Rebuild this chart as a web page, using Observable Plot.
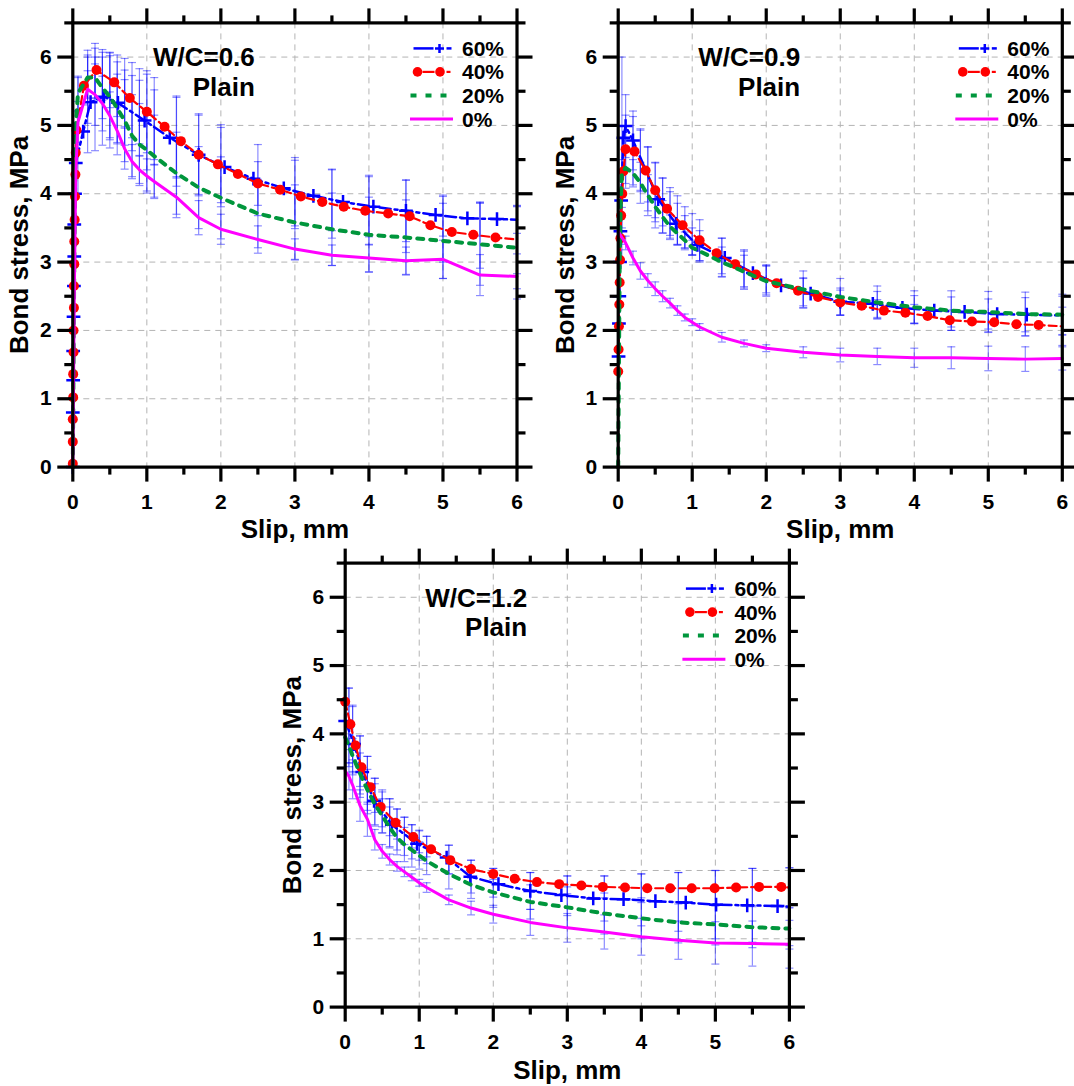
<!DOCTYPE html>
<html><head><meta charset="utf-8">
<script src="https://cdn.jsdelivr.net/npm/d3@7"></script>
<script src="https://cdn.jsdelivr.net/npm/@observablehq/plot@0.6"></script>
<style>
body{margin:0;background:#fff}
#root{position:relative;width:1074px;height:1086px;overflow:hidden;background:#fff}
#root svg{position:absolute}
</style>
</head><body><div id="root"></div>
<script>
// ---------- tick labels / categories ----------
const SERIES = ["60%", "40%", "20%", "0%"];
const X_MAJOR = [0, 1, 2, 3, 4, 5, 6];
const X_MINOR = [0.5, 1.5, 2.5, 3.5, 4.5, 5.5];
const Y_MAJOR = [0, 1, 2, 3, 4, 5, 6];
const Y_MINOR = [0.5, 1.5, 2.5, 3.5, 4.5, 5.5, 6.5];
const GRID_X = [1, 2, 3, 4, 5];
const GRID_Y = [1, 2, 3, 4, 5, 6];
const TITLES = ["W/C=0.6", "W/C=0.9", "W/C=1.2"];
const SUBTITLE = "Plain";
const X_LABEL = "Slip, mm";
const Y_LABEL = "Bond stress, MPa";

// ---------- W/C = 0.6 ----------
const p1_s60 = [[0,0],[0,0.8],[0.005,1.27],[0.005,1.7],[0.01,2.2],[0.015,2.65],[0.02,3.08],[0.02,3.55],[0.03,4.0],[0.04,4.45],[0.14,4.91],[0.24,5.34],[0.42,5.42],[0.61,5.33],[0.97,5.07],[1.31,4.82],[1.7,4.57],[2.05,4.39],[2.44,4.22],[2.85,4.08],[3.25,3.97],[3.65,3.88],[4.06,3.81],[4.5,3.75],[4.9,3.69],[5.33,3.64],[5.73,3.63],[6,3.62]];
const p1_s40 = [[0,0.05],[0,0.37],[0,0.7],[0.005,1.02],[0.005,1.36],[0.01,1.68],[0.01,2.0],[0.015,2.33],[0.015,2.65],[0.02,2.97],[0.02,3.3],[0.025,3.62],[0.03,3.96],[0.035,4.28],[0.04,4.6],[0.05,4.93],[0.15,5.58],[0.32,5.81],[0.56,5.63],[0.77,5.4],[1.0,5.2],[1.24,4.98],[1.46,4.77],[1.7,4.57],[1.96,4.43],[2.23,4.29],[2.5,4.15],[2.8,4.06],[3.08,3.96],[3.37,3.88],[3.66,3.81],[3.95,3.75],[4.26,3.71],[4.55,3.67],[4.83,3.54],[5.12,3.44],[5.41,3.4],[5.71,3.36],[6,3.33]];
const p1_s20_start = [[0,0],[0.02,3.0],[0.04,5.0]];
const p1_s0_start = [[0,0],[0.02,2.5],[0.04,4.3]];
const p1_ex = [0.07,0.2,0.3,0.4,0.5,0.6,0.7,0.8,0.9,1.0,1.1,1.4,1.7,2.0,2.5,3.0,3.5,4.0,4.5,5.0,5.5,6.0];
const p1_c60 = [4.6,5.2,5.38,5.41,5.37,5.33,5.26,5.18,5.11,5.05,4.97,4.76,4.57,4.41,4.2,4.03,3.91,3.82,3.75,3.68,3.63,3.62];
const p1_h60 = [0.6,0.6,0.75,0.7,0.7,0.6,0.55,0.55,0.55,0.7,0.55,0.65,0.6,0.6,0.52,0.5,0.45,0.45,0.45,0.3,0.25,0.2];
const p1_c40 = [5.3,5.7,5.8,5.72,5.66,5.58,5.48,5.37,5.28,5.2,5.1,4.83,4.57,4.42,4.15,3.99,3.85,3.75,3.67,3.48,3.39,3.33];
const p1_h40 = [0.4,0.4,0.4,0.35,0.4,0.45,0.5,0.55,0.55,0.6,0.6,0.6,0.58,0.55,0.32,0.5,0.5,0.5,0.53,0.48,0.48,0.5];
const p1_c20 = [5.47,5.7,5.7,5.55,5.42,5.25,5.07,4.85,4.72,4.64,4.55,4.3,4.09,3.94,3.71,3.58,3.48,3.4,3.36,3.31,3.26,3.21];
const p1_h20 = [0.25,0.3,0.3,0.45,0.6,0.5,0.6,0.6,0.6,0.6,0.6,0.6,0.6,0.6,0.5,0.55,0.53,0.55,0.55,0.55,0.6,0.6];
const p1_c0 = [5.05,5.53,5.45,5.32,5.14,4.92,4.66,4.47,4.35,4.26,4.18,3.95,3.65,3.48,3.33,3.19,3.1,3.06,3.02,3.04,2.81,2.79];
const p1_h0 = [0.3,0.5,0.45,0.4,0.35,0.35,0.3,0.25,0.2,0.25,0.25,0.3,0.25,0.22,0.2,0.15,0.15,0.2,0.2,0.28,0.3,0.33];

// ---------- W/C = 0.9 ----------
const p2_s60 = [[0.005,1.62],[0.01,2.1],[0.015,2.5],[0.025,3.0],[0.03,3.45],[0.04,3.9],[0.07,4.82],[0.1,4.99],[0.2,4.78],[0.54,3.92],[0.78,3.56],[1.07,3.25],[1.44,3.06],[1.82,2.84],[2.2,2.66],[2.6,2.54],[3.0,2.42],[3.44,2.39],[3.84,2.33],[4.27,2.29],[4.68,2.27],[5.12,2.24],[5.52,2.23],[6,2.22]];
const p2_s40 = [[0,1.4],[0.005,1.72],[0.01,2.06],[0.015,2.38],[0.02,2.7],[0.025,3.03],[0.03,3.35],[0.04,3.68],[0.055,4.0],[0.07,4.33],[0.1,4.65],[0.22,4.62],[0.37,4.34],[0.5,4.05],[0.66,3.78],[0.87,3.54],[1.1,3.32],[1.33,3.13],[1.58,2.97],[1.86,2.82],[2.14,2.69],[2.43,2.58],[2.7,2.49],[3.0,2.41],[3.29,2.36],[3.59,2.29],[3.88,2.26],[4.18,2.21],[4.48,2.15],[4.78,2.13],[5.08,2.12],[5.38,2.09],[5.68,2.08],[6,2.06]];
const p2_s20_start = [[0,0],[0.01,1.5],[0.02,3.0],[0.035,3.9]];
const p2_s0_start = [[0,3.45]];
const p2_ex = [0.05,0.1,0.2,0.3,0.4,0.5,0.6,0.7,0.8,0.9,1.0,1.1,1.4,1.7,2.0,2.5,3.0,3.5,4.0,4.5,5.0,5.5,6.0];
const p2_c60 = [4.5,4.99,4.78,4.5,4.22,3.98,3.83,3.68,3.56,3.43,3.3,3.24,3.07,2.88,2.74,2.56,2.42,2.38,2.31,2.27,2.24,2.23,2.22];
const p2_h60 = [1.5,0.46,0.43,0.45,0.47,0.48,0.4,0.35,0.3,0.25,0.2,0.22,0.28,0.28,0.22,0.2,0.2,0.19,0.2,0.22,0.22,0.25,0.28];
const p2_c40 = [4.0,4.65,4.63,4.48,4.28,4.05,3.88,3.74,3.61,3.51,3.41,3.32,3.09,2.91,2.75,2.55,2.41,2.31,2.24,2.15,2.12,2.09,2.06];
const p2_h40 = [0.5,0.5,0.5,0.45,0.4,0.4,0.35,0.35,0.36,0.3,0.3,0.3,0.26,0.27,0.2,0.22,0.18,0.14,0.14,0.15,0.14,0.17,0.28];
const p2_c20 = [4.3,4.38,4.3,4.16,3.98,3.81,3.66,3.52,3.42,3.32,3.21,3.16,3.0,2.86,2.72,2.6,2.49,2.41,2.34,2.29,2.27,2.24,2.23];
const p2_h20 = [0.5,0.3,0.2,0.3,0.3,0.22,0.24,0.17,0.17,0.12,0.11,0.16,0.22,0.24,0.22,0.27,0.27,0.24,0.24,0.29,0.3,0.32,0.3];
const p2_c0 = [3.36,3.28,3.06,2.87,2.73,2.61,2.5,2.4,2.29,2.19,2.12,2.05,1.9,1.81,1.74,1.68,1.64,1.62,1.6,1.6,1.59,1.58,1.59];
const p2_h0 = [0.1,0.1,0.1,0.12,0.1,0.1,0.08,0.07,0.07,0.05,0.05,0.05,0.07,0.05,0.05,0.08,0.1,0.12,0.14,0.16,0.18,0.18,0.17];

// ---------- W/C = 1.2 ----------
const p3_s60 = [[0,4.19],[0.12,3.85],[0.23,3.44],[0.39,3.02],[0.63,2.67],[0.97,2.39],[1.37,2.19],[1.69,1.91],[2.07,1.8],[2.5,1.7],[2.92,1.64],[3.35,1.59],[3.76,1.58],[4.19,1.55],[4.6,1.53],[5.01,1.5],[5.43,1.49],[5.84,1.48],[6,1.47]];
const p3_s40 = [[0,4.47],[0.07,4.14],[0.14,3.83],[0.22,3.51],[0.34,3.22],[0.48,2.93],[0.68,2.7],[0.92,2.49],[1.16,2.31],[1.42,2.15],[1.7,2.02],[2.0,1.95],[2.29,1.88],[2.59,1.83],[2.89,1.8],[3.19,1.78],[3.48,1.76],[3.78,1.75],[4.08,1.74],[4.39,1.74],[4.68,1.74],[4.99,1.74],[5.28,1.75],[5.59,1.76],[5.89,1.76],[6,1.75]];
const p3_s20_start = [[0,3.95]];
const p3_s0_start = [[0,3.46]];
const p3_ex = [0.05,0.1,0.2,0.3,0.4,0.5,0.6,0.7,0.8,0.9,1.0,1.1,1.4,1.7,2.0,2.5,3.0,3.5,4.0,4.5,5.0,5.5,6.0];
const p3_c60 = [4.12,3.9,3.52,3.25,3.0,2.85,2.7,2.6,2.5,2.42,2.37,2.3,2.16,1.91,1.82,1.7,1.63,1.59,1.57,1.54,1.5,1.49,1.47];
const p3_h60 = [0.55,0.5,0.45,0.42,0.35,0.3,0.35,0.3,0.28,0.25,0.22,0.2,0.21,0.24,0.21,0.27,0.29,0.33,0.38,0.43,0.5,0.54,0.57];
const p3_c40 = [4.22,4.02,3.6,3.32,3.1,2.91,2.78,2.68,2.58,2.5,2.42,2.35,2.16,2.02,1.95,1.84,1.79,1.76,1.74,1.74,1.74,1.76,1.75];
const p3_h40 = [0.45,0.4,0.37,0.35,0.25,0.27,0.27,0.22,0.2,0.17,0.16,0.15,0.21,0.13,0.08,0.13,0.13,0.16,0.21,0.23,0.26,0.27,0.29];
const p3_c20 = [3.82,3.68,3.42,3.18,2.97,2.8,2.63,2.48,2.38,2.3,2.22,2.14,1.95,1.79,1.68,1.54,1.46,1.37,1.3,1.24,1.21,1.17,1.15];
const p3_h20 = [0.3,0.25,0.3,0.3,0.3,0.25,0.3,0.25,0.25,0.25,0.2,0.2,0.22,0.2,0.22,0.25,0.3,0.3,0.3,0.3,0.3,0.3,0.3];
const p3_c0 = [3.38,3.25,2.95,2.75,2.45,2.28,2.16,2.06,1.98,1.9,1.82,1.75,1.57,1.45,1.36,1.24,1.16,1.1,1.03,0.98,0.94,0.93,0.92];
const p3_h0 = [0.2,0.2,0.23,0.25,0.15,0.1,0.08,0.07,0.07,0.05,0.05,0.07,0.07,0.1,0.13,0.19,0.21,0.25,0.27,0.28,0.31,0.33,0.35];

// ---------- styles ----------
const FONT = "'Liberation Sans', Arial, Helvetica, sans-serif";
const STYLE = {
  "60%": {stroke: "#0000ff", width: 2.5, dash: "11,4,3,4"},
  "40%": {stroke: "#ff0000", width: 2.2, dash: "8,4"},
  "20%": {stroke: "#00963c", width: 4, dash: "6,7"},
  "0%":  {stroke: "#ff00ff", width: 3, dash: null}
};
const ERR_COLOR = "#0000ff";

const capSymbol = {draw(ctx, size) { const r = Math.sqrt(size / Math.PI); ctx.moveTo(-r, 0); ctx.lineTo(r, 0); }};

function zipPairs(xs, ys) { return xs.map((x, i) => [x, ys[i]]); }
function errRows(xs, cs, hs) { return xs.map((x, i) => ({x, lo: cs[i] - hs[i], hi: cs[i] + hs[i]})); }

const PANELS = [
  {left: 0, top: 0, width: 537, height: 540, ml: 72.3, mr: 20.5, mt: 22.4, mb: 73.4, title: TITLES[0], xlabDy: 71,
   s60: p1_s60, s40: p1_s40, s20: p1_s20_start.concat(zipPairs(p1_ex, p1_c20)), s0: p1_s0_start.concat(zipPairs(p1_ex, p1_c0)),
   err: [errRows(p1_ex, p1_c60, p1_h60), errRows(p1_ex, p1_c40, p1_h40), errRows(p1_ex, p1_c20, p1_h20), errRows(p1_ex, p1_c0, p1_h0)]},
  {left: 537, top: 0, width: 537, height: 540, ml: 80.7, mr: 12.2, mt: 22.4, mb: 73.4, title: TITLES[1], xlabDy: 71,
   s60: p2_s60, s40: p2_s40, s20: p2_s20_start.concat(zipPairs(p2_ex, p2_c20)), s0: p2_s0_start.concat(zipPairs(p2_ex, p2_c0)),
   err: [errRows(p2_ex, p2_c60, p2_h60), errRows(p2_ex, p2_c40, p2_h40), errRows(p2_ex, p2_c20, p2_h20), errRows(p2_ex, p2_c0, p2_h0)]},
  {left: 270, top: 540, width: 540, height: 546, ml: 74.7, mr: 21.1, mt: 22.6, mb: 79.4, title: TITLES[2], xlabDy: 72,
   s60: p3_s60, s40: p3_s40, s20: p3_s20_start.concat(zipPairs(p3_ex, p3_c20)), s0: p3_s0_start.concat(zipPairs(p3_ex, p3_c0)),
   err: [errRows(p3_ex, p3_c60, p3_h60), errRows(p3_ex, p3_c40, p3_h40), errRows(p3_ex, p3_c20, p3_h20), errRows(p3_ex, p3_c0, p3_h0)]}
];

function seriesLine(data, key) {
  const s = STYLE[key];
  return Plot.line(data, {x: d => d[0], y: d => d[1], stroke: s.stroke, strokeWidth: s.width,
    strokeDasharray: s.dash || undefined, strokeLinejoin: "round"});
}

function drawLegend(svg, R, T) {
  const g = d3.select(svg).append("g");
  const rows = [26, 49.5, 73, 96.7];
  // 60%
  let y = T + rows[0];
  g.append("line").attr("x1", R - 103).attr("x2", R - 83).attr("y1", y).attr("y2", y)
    .attr("stroke", STYLE["60%"].stroke).attr("stroke-width", 2.5);
  g.append("path").attr("d", `M${R - 81.5},${y}H${R - 72.5}M${R - 77},${y - 4.5}V${y + 4.5}`)
    .attr("stroke", STYLE["60%"].stroke).attr("stroke-width", 2.5).attr("fill", "none");
  g.append("line").attr("x1", R - 70).attr("x2", R - 65).attr("y1", y).attr("y2", y)
    .attr("stroke", STYLE["60%"].stroke).attr("stroke-width", 2.5);
  // 40%
  y = T + rows[1];
  g.append("circle").attr("cx", R - 99).attr("cy", y).attr("r", 4.8).attr("fill", STYLE["40%"].stroke);
  g.append("line").attr("x1", R - 94).attr("x2", R - 82).attr("y1", y).attr("y2", y)
    .attr("stroke", STYLE["40%"].stroke).attr("stroke-width", 2.2);
  g.append("circle").attr("cx", R - 76.5).attr("cy", y).attr("r", 4.8).attr("fill", STYLE["40%"].stroke);
  g.append("line").attr("x1", R - 70).attr("x2", R - 66).attr("y1", y).attr("y2", y)
    .attr("stroke", STYLE["40%"].stroke).attr("stroke-width", 2.2);
  // 20%
  y = T + rows[2];
  g.append("line").attr("x1", R - 106).attr("x2", R - 64).attr("y1", y).attr("y2", y)
    .attr("stroke", STYLE["20%"].stroke).attr("stroke-width", 4).attr("stroke-dasharray", "6,9");
  // 0%
  y = T + rows[3];
  g.append("line").attr("x1", R - 106.5).attr("x2", R - 63.5).attr("y1", y).attr("y2", y)
    .attr("stroke", STYLE["0%"].stroke).attr("stroke-width", 3);
  SERIES.forEach((name, i) => {
    g.append("text").attr("x", R - 54.5).attr("y", T + rows[i]).attr("dy", "0.36em")
      .attr("text-anchor", "start")
      .attr("font-family", FONT).attr("font-weight", "bold").attr("font-size", 21).attr("fill", "#000").text(name);
  });
}

const root = document.getElementById("root");
for (const P of PANELS) {
  const errMarks = [];
  for (const rows of P.err) {
    errMarks.push(Plot.ruleX(rows, {x: "x", y1: "lo", y2: "hi", stroke: ERR_COLOR, strokeOpacity: 0.45, strokeWidth: 1.2}));
    errMarks.push(Plot.dot(rows, {x: "x", y: "lo", symbol: capSymbol, r: 4, fill: "none", stroke: ERR_COLOR, strokeOpacity: 0.45, strokeWidth: 1.2}));
    errMarks.push(Plot.dot(rows, {x: "x", y: "hi", symbol: capSymbol, r: 4, fill: "none", stroke: ERR_COLOR, strokeOpacity: 0.45, strokeWidth: 1.2}));
  }
  const svg = Plot.plot({
    width: P.width, height: P.height,
    marginLeft: P.ml, marginRight: P.mr, marginTop: P.mt, marginBottom: P.mb,
    x: {domain: [0, 6]}, y: {domain: [0, 6.5]},
    style: {fontFamily: FONT, fontSize: "21px", fontWeight: "bold", color: "#000", background: "transparent", overflow: "visible"},
    marks: [
      Plot.gridX({ticks: GRID_X, stroke: "#b4b4b4", strokeOpacity: 1, strokeWidth: 1, strokeDasharray: "6,5"}),
      Plot.gridY({ticks: GRID_Y, stroke: "#b4b4b4", strokeOpacity: 1, strokeWidth: 1, strokeDasharray: "6,5"}),
      ...errMarks,
      seriesLine(P.s60, "60%"),
      Plot.dot(P.s60.slice(0, -1), {x: d => d[0], y: d => d[1], symbol: "plus", r: 4.5, stroke: STYLE["60%"].stroke, strokeWidth: 2.5}),
      seriesLine(P.s40, "40%"),
      Plot.dot(P.s40.slice(0, -1), {x: d => d[0], y: d => d[1], r: 5, fill: STYLE["40%"].stroke, stroke: "none"}),
      seriesLine(P.s20, "20%"),
      seriesLine(P.s0, "0%"),
      Plot.frame({stroke: "#000", strokeWidth: 3.2}),
      Plot.axisX({ticks: X_MAJOR, anchor: "bottom", tickSize: 15, tickPadding: 12, strokeWidth: 3.2, label: null, fontSize: 21, fontWeight: "bold", tickFormat: d => String(d)}),
      Plot.axisX({ticks: X_MINOR, anchor: "bottom", tickSize: 8, strokeWidth: 3.2, fill: "none", label: null}),
      Plot.axisX({ticks: X_MAJOR, anchor: "top", tickSize: 15, strokeWidth: 3.2, fill: "none", label: null}),
      Plot.axisX({ticks: X_MINOR, anchor: "top", tickSize: 8, strokeWidth: 3.2, fill: "none", label: null}),
      Plot.axisY({ticks: Y_MAJOR, anchor: "left", tickSize: 15, tickPadding: 6, strokeWidth: 3.2, label: null, fontSize: 21, fontWeight: "bold", tickFormat: d => String(d)}),
      Plot.axisY({ticks: Y_MINOR, anchor: "left", tickSize: 8, strokeWidth: 3.2, fill: "none", label: null}),
      Plot.axisY({ticks: Y_MAJOR, anchor: "right", tickSize: 15, strokeWidth: 3.2, fill: "none", label: null}),
      Plot.axisY({ticks: Y_MINOR, anchor: "right", tickSize: 8, strokeWidth: 3.2, fill: "none", label: null}),
      Plot.text([P.title], {frameAnchor: "top-left", dx: 182, dy: 25, textAnchor: "end", fontSize: 26, fontWeight: "bold", fill: "#000"}),
      Plot.text([SUBTITLE], {frameAnchor: "top-left", dx: 182, dy: 54.5, textAnchor: "end", fontSize: 26, fontWeight: "bold", fill: "#000"}),
      Plot.text([X_LABEL], {frameAnchor: "bottom", dy: P.xlabDy, textAnchor: "middle", fontSize: 26, fontWeight: "bold", fill: "#000"}),
      Plot.text([Y_LABEL], {frameAnchor: "left", dx: -53, rotate: -90, textAnchor: "middle", fontSize: 26, fontWeight: "bold", fill: "#000"})
    ]
  });
  svg.style.left = P.left + "px";
  svg.style.top = P.top + "px";
  drawLegend(svg, P.width - P.mr, P.mt);
  root.appendChild(svg);
}
</script></body></html>
